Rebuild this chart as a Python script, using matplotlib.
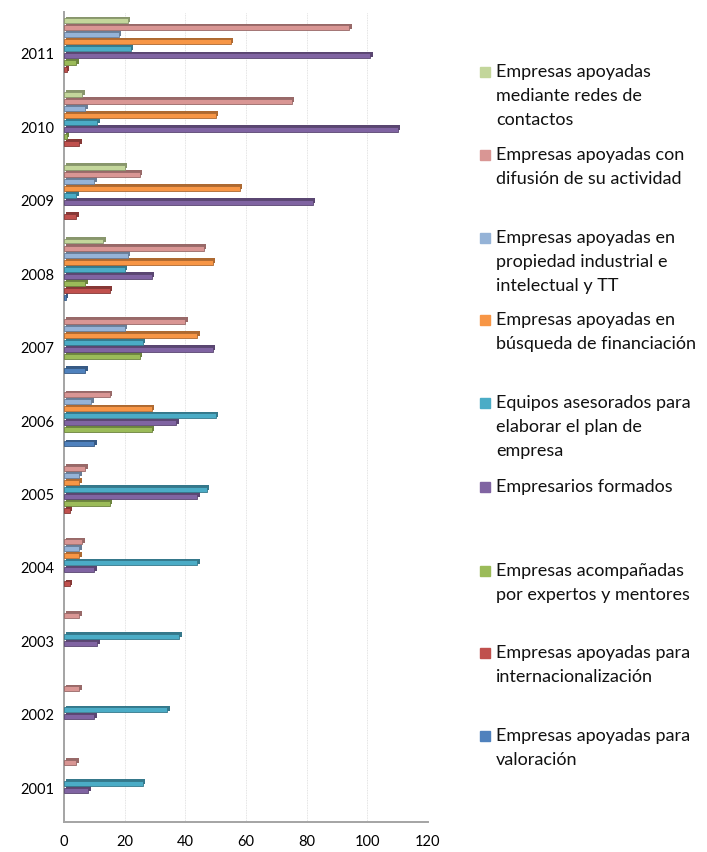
import matplotlib.pyplot as plt
import matplotlib.colors as mcolors
import numpy as np

years = ["2001", "2002", "2003", "2004", "2005", "2006",
         "2007", "2008", "2009", "2010", "2011"]

# series in Excel order (first series is drawn at the bottom of each group)
valoracion = [0, 0, 0, 0, 0, 10, 7, 0.5, 0, 0, 0]
internacionalizacion = [0, 0, 0, 2, 2, 0, 0, 15, 4, 5, 1]
acompanadas = [0, 0, 0, 0, 15, 29, 25, 7, 0, 1, 4]
empresarios_formados = [8, 10, 11, 10, 44, 37, 49, 29, 82, 110, 101]
equipos_plan = [26, 34, 38, 44, 47, 50, 26, 20, 4, 11, 22]
financiacion = [0, 0, 0, 5, 5, 29, 44, 49, 58, 50, 55]
propiedad = [0, 0, 0, 5, 5, 9, 20, 21, 10, 7, 18]
difusion = [4, 5, 5, 6, 7, 15, 40, 46, 25, 75, 94]
redes = [0, 0, 0, 0, 0, 0, 0, 13, 20, 6, 21]

series = [valoracion, internacionalizacion, acompanadas, empresarios_formados,
          equipos_plan, financiacion, propiedad, difusion, redes]

labels = [
    "Empresas apoyadas para\nvaloración",
    "Empresas apoyadas para\ninternacionalización",
    "Empresas acompañadas\npor expertos y mentores",
    "Empresarios formados",
    "Equipos asesorados para\nelaborar el plan de\nempresa",
    "Empresas apoyadas en\nbúsqueda de financiación",
    "Empresas apoyadas en\npropiedad industrial e\nintelectual y TT",
    "Empresas apoyadas con\ndifusión de su actividad",
    "Empresas apoyadas\nmediante redes de\ncontactos",
]

colors = ["#4F81BD", "#C0504D", "#9BBB59", "#8064A2", "#4BACC6",
          "#F79646", "#95B3D7", "#D99694", "#C3D69B"]

# first-line centre of each legend entry, in pixels from the top
legend_y = [736, 653, 571, 487, 403, 320, 238, 155, 72]

plt.rcParams["font.family"] = ["Lato", "DejaVu Sans"]

W, H = 707, 852
fig = plt.figure(figsize=(W / 100, H / 100), dpi=100)
ax = fig.add_axes([64 / W, 30 / H, 364 / W, 810 / H])

slot = 0.0954
height = 0.068
idx = np.arange(len(years))

for k, (vals, col) in enumerate(zip(series, colors)):
    vals = np.array(vals, dtype=float)
    y = idx + (k - 4) * slot
    dark = np.array(mcolors.to_rgb(col)) * 0.7
    shown = vals > 0
    # top/side face to give the bars some depth
    ax.barh(y[shown] + 0.022, vals[shown], height=height, left=0.8,
            color=dark, zorder=2)
    ax.barh(y[shown], vals[shown], height=height, color=col, edgecolor=dark,
            linewidth=0.6, zorder=3)

ax.set_xlim(0, 120)
ax.set_ylim(-0.53, 10.5)
ax.set_xticks(range(0, 121, 20))
ax.set_yticks(idx - 0.07)
ax.set_yticklabels(years)
ax.tick_params(axis="both", length=0, labelsize=10.5, colors="black")
ax.tick_params(axis="x", pad=9)
ax.tick_params(axis="y", pad=7)

ax.grid(axis="x", color="#a4a4a4", linewidth=1.4, zorder=0)
ax.grid(axis="x", color="#dadada", linewidth=0.6, linestyle=(0, (1, 1)), zorder=1)
for s in ["top", "right"]:
    ax.spines[s].set_visible(False)
for s in ["left", "bottom"]:
    ax.spines[s].set_color("#a4a4a4")
    ax.spines[s].set_linewidth(1.4)

# legend drawn by hand to keep Excel's uneven entry spacing
for lab, col, ly in zip(labels, colors, legend_y):
    fig.patches.append(plt.Rectangle((480 / W, 1 - (ly + 5) / H), 10 / W, 10 / H,
                                     transform=fig.transFigure, color=col))
    for j, line in enumerate(lab.split("\n")):
        fig.text(496 / W, 1 - (ly + j * 24) / H, line, fontsize=13,
                 va="center", ha="left", color="#111111")

fig.savefig("out.png", dpi=100)
